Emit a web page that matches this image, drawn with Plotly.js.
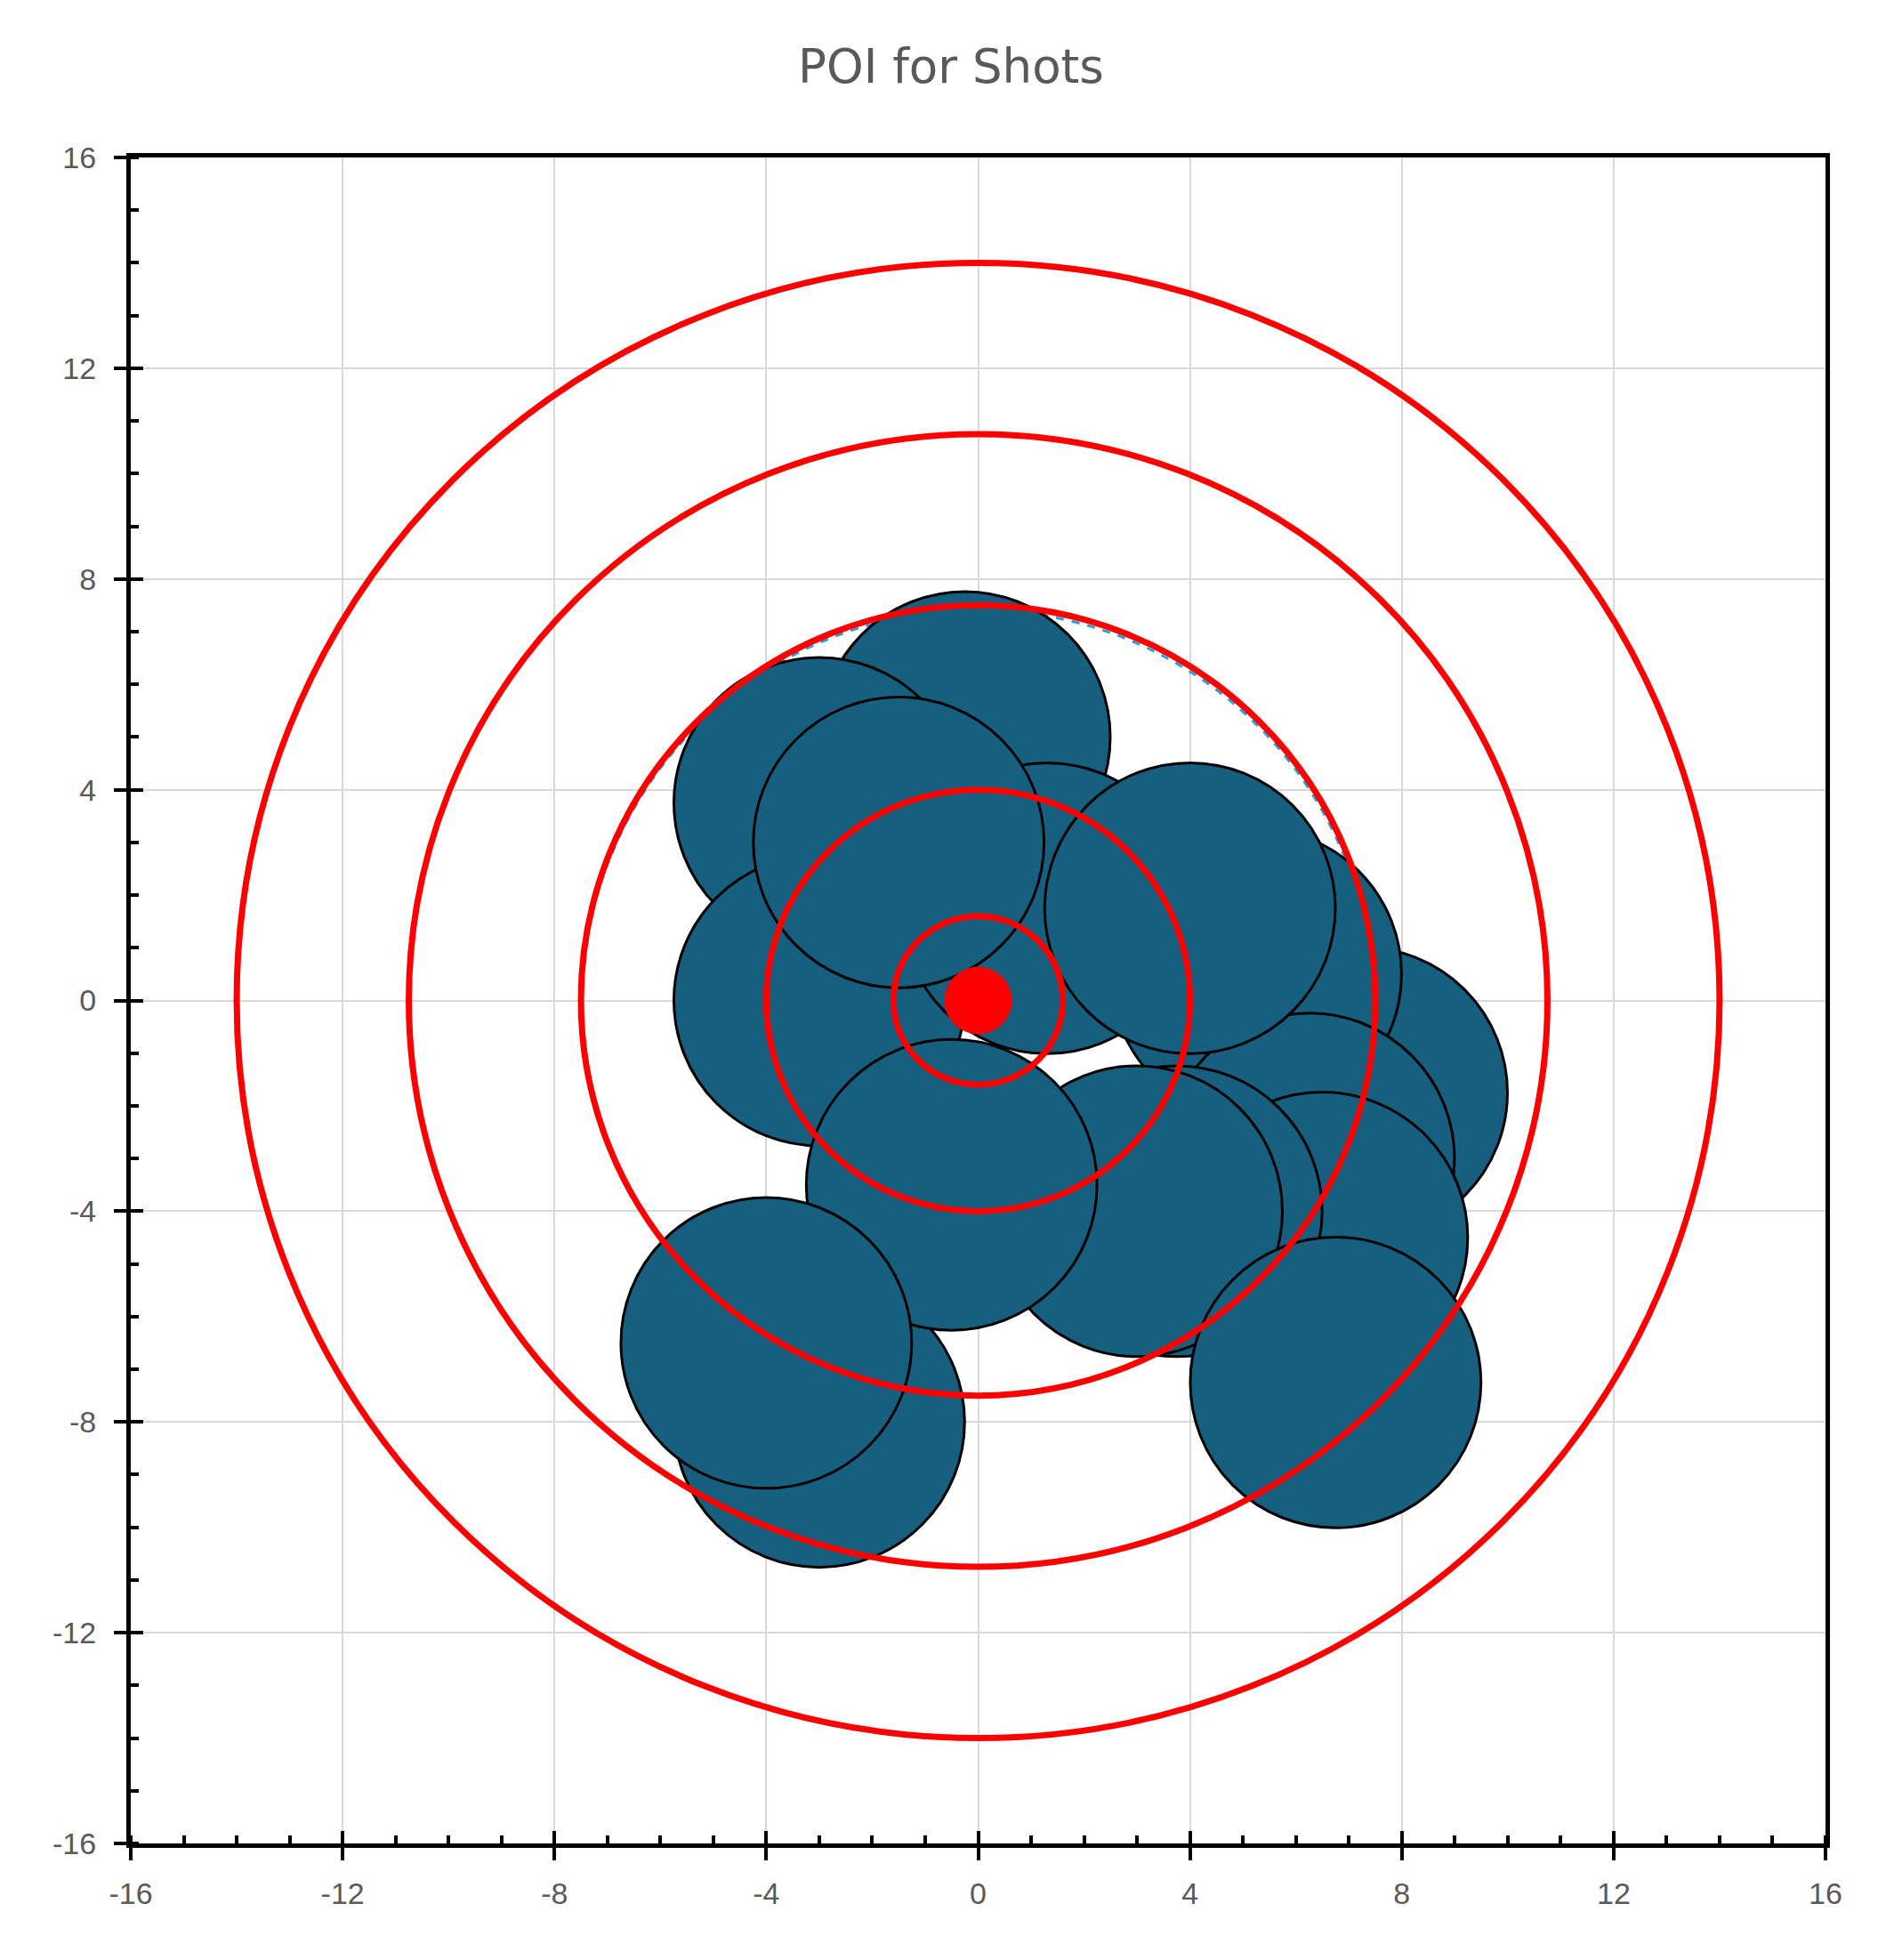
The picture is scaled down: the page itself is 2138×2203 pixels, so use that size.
<!DOCTYPE html>
<html>
<head>
<meta charset="utf-8">
<script src="https://cdn.plot.ly/plotly-3.0.1.min.js"></script>
<style>html,body{margin:0;padding:0;background:#fff;}#chart{width:2138px;height:2203px;}</style>
</head>
<body>
<div id="chart"></div>
<script>
// ---- data ----
// shot points of impact, listed in drawing order (back to front)
const shotX = [7.25, 5.25, 6.25, 6.5, -0.25, -3.0, -3.0, 1.3, 4.0, 3.75, 3.0, -3.0, -0.5, -4.0, -1.5, 6.75];
const shotY = [-1.75, 0.5, -3.0, -4.5, 5.0, 3.75, 0.0, 1.75, 1.75, -4.0, -4.0, -8.0, -3.5, -6.5, 3.0, -7.25];
const shotRadius = 2.77;            // bubble radius in data units
// aim point
const aimX = [0];
const aimY = [0];
// target rings (radius in data units)
const ringRadii = [14, 10.75, 7.5, 4, 1.6];
// group circle (light blue dashed)
const groupCX = -0.013, groupCY = -0.055, groupR = 7.468;
// axes
const axisMin = -16, axisMax = 16;
const tickVals = [-16, -12, -8, -4, 0, 4, 8, 12, 16];
const tickText = ["-16", "-12", "-8", "-4", "0", "4", "8", "12", "16"];

// ---- layout geometry ----
const W = 2138, H = 2203;
const M = {l: 147, r: 86, t: 177, b: 131};
const plotW = W - M.l - M.r;
const pxPerUnit = plotW / (axisMax - axisMin);
const lineW = 3;
const bubbleSize = 2 * shotRadius * pxPerUnit - lineW;

const tickFont = {family: "Liberation Sans, Arial, sans-serif", size: 34, color: "#595959"};

const shapes = [];
shapes.push({
  type: "circle", xref: "x", yref: "y", layer: "between",
  x0: groupCX - groupR, x1: groupCX + groupR, y0: groupCY - groupR, y1: groupCY + groupR,
  line: {color: "#2A9FD6", width: 3, dash: "dash"}
});
ringRadii.forEach(r => shapes.push({
  type: "circle", xref: "x", yref: "y", layer: "above",
  x0: -r, x1: r, y0: -r, y1: r,
  line: {color: "#FF0000", width: 7}
}));

const traces = [
  {
    type: "scatter", mode: "markers", x: shotX, y: shotY, name: "Shots",
    marker: {size: bubbleSize, color: "#175F7F", opacity: 1, line: {color: "#000000", width: lineW}},
    hoverinfo: "skip", showlegend: false
  },
  {
    type: "scatter", mode: "markers", x: aimX, y: aimY, name: "Aim",
    marker: {size: 76, color: "#FF0000", line: {width: 0}},
    hoverinfo: "skip", showlegend: false
  },
  {
    type: "scatter", mode: "markers", x: [aimX[0]], y: [aimY[0]], xaxis: "x2", yaxis: "y2",
    marker: {size: 1, opacity: 0}, hoverinfo: "skip", showlegend: false
  }
];

const baseAxis = {
  range: [axisMin, axisMax], autorange: false,
  tickmode: "array", tickvals: tickVals, ticktext: tickText,
  ticks: "outside", ticklen: 14, tickwidth: 4, tickcolor: "#000",
  showline: true, linecolor: "#000", linewidth: 5, mirror: true,
  showgrid: true, gridcolor: "#D9D9D9", gridwidth: 2,
  zeroline: false, tickfont: tickFont,
  minor: {ticks: "inside", ticklen: 9, tickwidth: 4, tickcolor: "#000", dtick: 1, tick0: 0, showgrid: false},
  fixedrange: true
};
const overAxis = {
  range: [axisMin, axisMax], autorange: false,
  tickmode: "array", tickvals: tickVals, ticktext: tickText,
  ticks: "inside", ticklen: 14, tickwidth: 4, tickcolor: "#000",
  showline: false, showgrid: false, zeroline: false, showticklabels: false, fixedrange: true
};

const layout = {
  width: W, height: H,
  margin: M,
  paper_bgcolor: "#FFFFFF", plot_bgcolor: "#FFFFFF",
  title: {
    text: "POI for Shots",
    font: {family: "DejaVu Sans, Liberation Sans, sans-serif", size: 53, color: "#595959"},
    x: 0.5, xanchor: "center", xref: "container",
    y: 1 - 74 / H, yanchor: "middle", yref: "container"
  },
  xaxis: Object.assign({}, baseAxis, {ticklabelstandoff: 8}),
  yaxis: Object.assign({}, baseAxis, {ticklabelstandoff: 13}),
  xaxis2: Object.assign({overlaying: "x", anchor: "y", side: "bottom"}, overAxis),
  yaxis2: Object.assign({overlaying: "y", anchor: "x", side: "left"}, overAxis),
  shapes: shapes,
  showlegend: false
};

Plotly.newPlot("chart", traces, layout, {staticPlot: true, displayModeBar: false});
</script>
</body>
</html>
